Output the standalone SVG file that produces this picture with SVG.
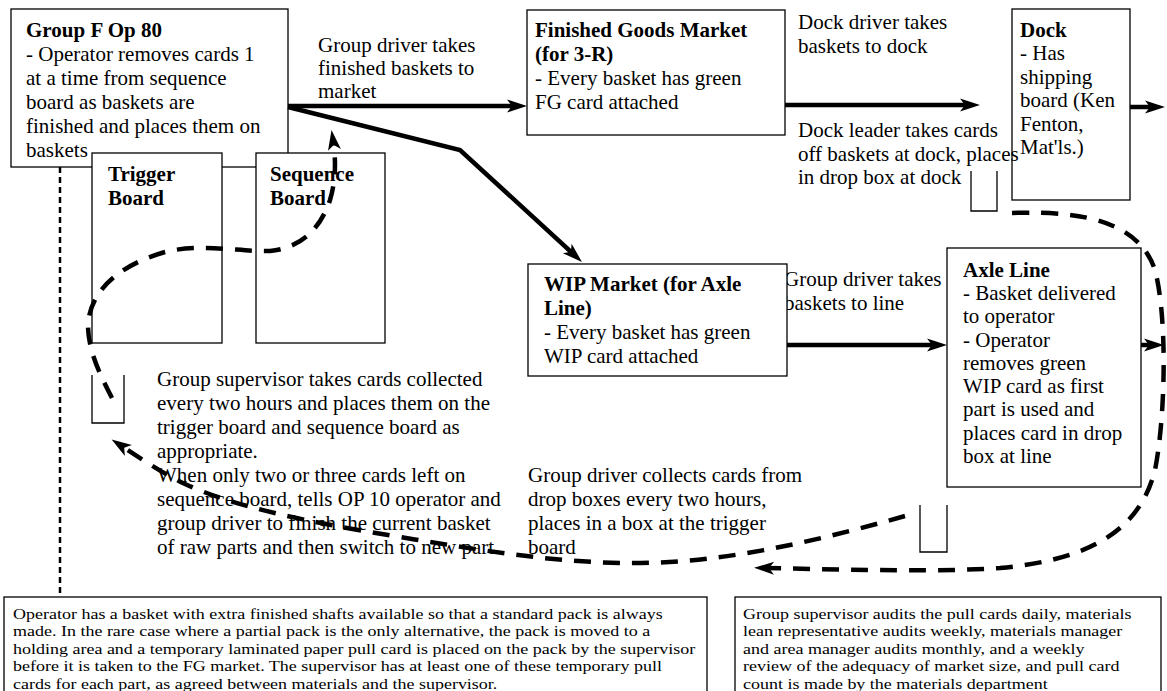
<svg xmlns="http://www.w3.org/2000/svg" width="1167" height="691" viewBox="0 0 1167 691">
<defs>
<style>
.box{fill:#fff;stroke:#000;stroke-width:1.3}
.t{font-family:"Liberation Serif","Times New Roman",serif;font-size:21px;fill:#000}
.b{font-weight:bold}
.n{font-size:15.5px}
.thick{fill:none;stroke:#000;stroke-width:4.5}
.dash{fill:none;stroke:#000;stroke-width:4.5;stroke-dasharray:17 12}
.dot{fill:none;stroke:#000;stroke-width:2.5;stroke-dasharray:6 4}
.drop{fill:none;stroke:#000;stroke-width:1.3}
</style>
<marker id="ah" markerUnits="userSpaceOnUse" viewBox="-12 -8 24 16" markerWidth="24" markerHeight="16" refX="0" refY="0" orient="auto"><path d="M10,0 L-10,-6.5 L-5,0 L-10,6.5 Z" fill="#000"/></marker>
</defs>
<rect width="1167" height="691" fill="#fff"/>

<g id="groupF">
<rect class="box" x="11" y="9" width="277" height="158"/>
<text class="t b" x="26" y="37">Group F Op 80</text>
<text class="t" x="26" y="61">- Operator removes cards 1</text>
<text class="t" x="26" y="85">at a time from sequence</text>
<text class="t" x="26" y="109">board as baskets are</text>
<text class="t" x="26" y="133">finished and places them on</text>
<text class="t" x="26" y="157">baskets</text>
</g>
<g id="trigger">
<rect class="box" x="92" y="153" width="130" height="190"/>
<text class="t b" x="108" y="181">Trigger</text>
<text class="t b" x="108" y="205">Board</text>
</g>
<g id="sequence">
<rect class="box" x="256" y="153" width="129" height="190"/>
<text class="t b" x="270" y="181">Sequence</text>
<text class="t b" x="270" y="205">Board</text>
</g>
<g id="fgMarket">
<rect class="box" x="527" y="10" width="258" height="125"/>
<text class="t b" x="535" y="37">Finished Goods Market</text>
<text class="t b" x="535" y="61">(for 3-R)</text>
<text class="t" x="535" y="85">- Every basket has green</text>
<text class="t" x="535" y="109">FG card attached</text>
</g>
<g id="dock">
<rect class="box" x="1012" y="9" width="118" height="191"/>
<text class="t b" x="1020" y="37">Dock</text>
<text class="t" x="1020" y="60">- Has</text>
<text class="t" x="1020" y="84">shipping</text>
<text class="t" x="1020" y="107">board (Ken</text>
<text class="t" x="1020" y="131">Fenton,</text>
<text class="t" x="1020" y="154">Mat'ls.)</text>
</g>

<g id="labels">
<text class="t" x="318" y="52">Group driver takes</text>
<text class="t" x="318" y="75">finished baskets to</text>
<text class="t" x="318" y="98">market</text>
<text class="t" x="798" y="29">Dock driver takes</text>
<text class="t" x="798" y="53">baskets to dock</text>
<text class="t" x="798" y="137">Dock leader takes cards</text>
<text class="t" x="798" y="161">off baskets at dock, places</text>
<text class="t" x="798" y="184">in drop box at dock</text>
<text class="t" x="784" y="286">Group driver takes</text>
<text class="t" x="784" y="310">baskets to line</text>
<text class="t" x="157" y="386">Group supervisor takes cards collected</text>
<text class="t" x="157" y="410">every two hours and places them on the</text>
<text class="t" x="157" y="434">trigger board and sequence board as</text>
<text class="t" x="157" y="458">appropriate.</text>
<text class="t" x="157" y="482">When only two or three cards left on</text>
<text class="t" x="157" y="506">sequence board, tells OP 10 operator and</text>
<text class="t" x="157" y="530">group driver to finish the current basket</text>
<text class="t" x="157" y="554">of raw parts and then switch to new part</text>
<text class="t" x="528" y="482">Group driver collects cards from</text>
<text class="t" x="528" y="506">drop boxes every two hours,</text>
<text class="t" x="528" y="530">places in a box at the trigger</text>
<text class="t" x="528" y="554">board</text>
</g>

<g id="wipMarket">
<rect class="box" x="528" y="264" width="259" height="112"/>
<text class="t b" x="544" y="291">WIP Market (for Axle</text>
<text class="t b" x="544" y="315">Line)</text>
<text class="t" x="544" y="339">- Every basket has green</text>
<text class="t" x="544" y="363">WIP card attached</text>
</g>
<g id="axleLine">
<rect class="box" x="947" y="248" width="194" height="239"/>
<text class="t b" x="963" y="277">Axle Line</text>
<text class="t" x="963" y="300">- Basket delivered</text>
<text class="t" x="963" y="323">to operator</text>
<text class="t" x="963" y="347">- Operator</text>
<text class="t" x="963" y="370">removes green</text>
<text class="t" x="963" y="393">WIP card as first</text>
<text class="t" x="963" y="416">part is used and</text>
<text class="t" x="963" y="440">places card in drop</text>
<text class="t" x="963" y="463">box at line</text>
</g>

<g id="dropBoxes">
<path class="drop" d="M971,171 V211 H997 V171"/>
<path class="drop" d="M920,505 V552 H947 V505"/>
<path class="drop" d="M92,375 V423 H124 V375"/>
</g>

<g id="connectors">
<path class="thick" d="M288,106 H517" marker-end="url(#ah)"/>
<path class="thick" d="M288,107 L460,150 L574.6,255.2" marker-end="url(#ah)"/>
<path class="thick" d="M785,105 H970" marker-end="url(#ah)"/>
<path class="thick" d="M1130,107 H1155" marker-end="url(#ah)"/>
<path class="thick" d="M787,345 H937" marker-end="url(#ah)"/>
<path class="thick" d="M1141,345 H1154" marker-end="url(#ah)"/>
<path class="dash" d="M1012,213 C1090,210 1140,225 1155,270 C1168,320 1165,420 1155,470 C1140,530 1090,560 1000,568 C940,572 860,570 764,568" marker-end="url(#ah)"/>
<path class="dash" d="M905,516 C820,540 730,562 640,563 C560,564 480,550 400,537 C300,521 230,505 185,484 C160,472 140,458 120,445" marker-end="url(#ah)"/>
<path class="dash" d="M112,398 C100,375 88,350 88,325 C90,290 120,265 165,252 C200,243 240,252 270,251 C300,248 320,230 330,200 C336,180 336,160 333,140" marker-end="url(#ah)"/>
<path class="dot" d="M60,167 V597"/>
</g>

<g id="noteLeft">
<rect class="box" x="4" y="597" width="703" height="100"/>
<g transform="translate(13 0) scale(1.1613 1)">
<text class="t n" x="0" y="619">Operator has a basket with extra finished shafts available so that a standard pack is always</text>
<text class="t n" x="0" y="636.5">made. In the rare case where a partial pack is the only alternative, the pack is moved to a</text>
<text class="t n" x="0" y="654">holding area and a temporary laminated paper pull card is placed on the pack by the supervisor</text>
<text class="t n" x="0" y="671.5">before it is taken to the FG market. The supervisor has at least one of these temporary pull</text>
<text class="t n" x="0" y="689">cards for each part, as agreed between materials and the supervisor.</text>
</g>
</g>
<g id="noteRight">
<rect class="box" x="735" y="597" width="426" height="100"/>
<g transform="translate(743 0) scale(1.1613 1)">
<text class="t n" x="0" y="619">Group supervisor audits the pull cards daily, materials</text>
<text class="t n" x="0" y="636.5">lean representative audits weekly, materials manager</text>
<text class="t n" x="0" y="654">and area manager audits monthly, and a weekly</text>
<text class="t n" x="0" y="671.5">review of the adequacy of market size, and pull card</text>
<text class="t n" x="0" y="689">count is made by the materials department</text>
</g>
</g>
</svg>
